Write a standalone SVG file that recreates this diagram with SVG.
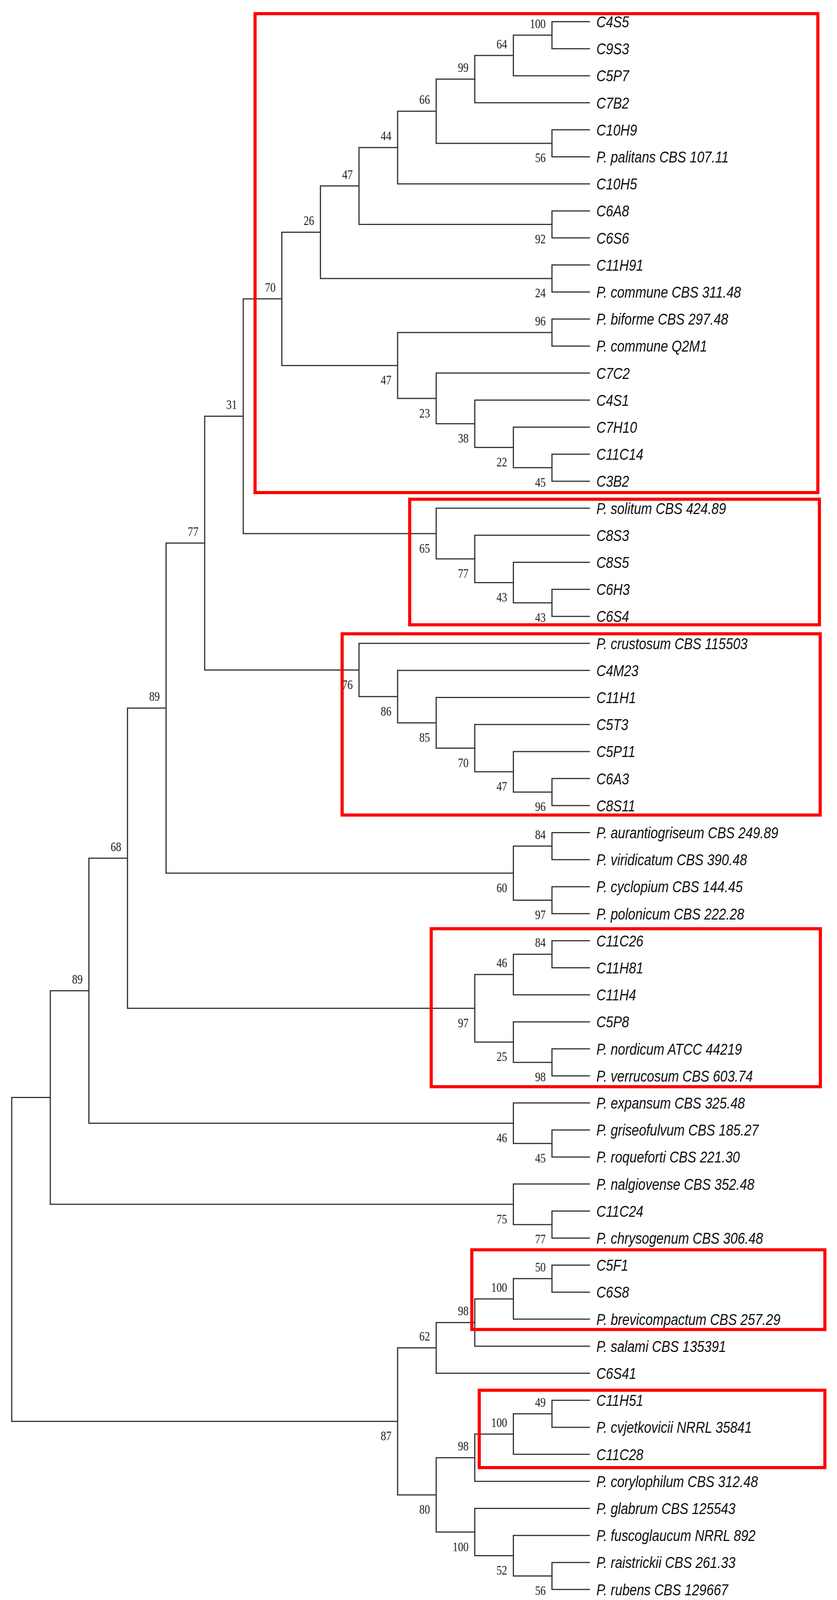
<svg xmlns="http://www.w3.org/2000/svg" width="2143" height="4108" viewBox="0 0 2143 4108">
<style>
.br{fill:none;stroke:#333;stroke-width:3;stroke-linejoin:miter}
.box{fill:none;stroke:#ff0000;stroke-width:8}
.lf{font-family:"Liberation Sans",Arial,sans-serif;font-style:italic;font-size:41px;fill:#111}
.bs{font-family:"Liberation Serif","Times New Roman",serif;font-size:33px;fill:#222}
</style>
<rect x="0" y="0" width="2143" height="4108" fill="#ffffff"/>
<g id="connectors">
<path class="br" d="M1510.5 55.5H1413.2V124.7H1510.5"/>
<path class="br" d="M1413.2 90.1H1314.4V193.9H1510.5"/>
<path class="br" d="M1314.4 142H1215.6V263.1H1510.5"/>
<path class="br" d="M1510.5 332.3H1413.2V401.5H1510.5"/>
<path class="br" d="M1215.6 202.55H1116.8V366.9H1413.2"/>
<path class="br" d="M1116.8 284.7H1018V470.7H1510.5"/>
<path class="br" d="M1510.5 539.9H1413.2V609.1H1510.5"/>
<path class="br" d="M1018 377.7H919.2V574.5H1413.2"/>
<path class="br" d="M1510.5 678.3H1413.2V747.5H1510.5"/>
<path class="br" d="M919.2 476.1H820.4V712.9H1413.2"/>
<path class="br" d="M1510.5 816.7H1413.2V885.9H1510.5"/>
<path class="br" d="M1510.5 1162.7H1413.2V1231.9H1510.5"/>
<path class="br" d="M1510.5 1093.5H1314.4V1197.3H1413.2"/>
<path class="br" d="M1510.5 1024.3H1215.6V1145.4H1314.4"/>
<path class="br" d="M1510.5 955.1H1116.8V1084.85H1215.6"/>
<path class="br" d="M1413.2 851.3H1018V1020H1116.8"/>
<path class="br" d="M820.4 594.5H721.6V935.65H1018"/>
<path class="br" d="M1510.5 1508.7H1413.2V1577.9H1510.5"/>
<path class="br" d="M1510.5 1439.5H1314.4V1543.3H1413.2"/>
<path class="br" d="M1510.5 1370.3H1215.6V1491.4H1314.4"/>
<path class="br" d="M1510.5 1301.1H1116.8V1430.85H1215.6"/>
<path class="br" d="M721.6 765.1H622.8V1366H1116.8"/>
<path class="br" d="M1510.5 1993.1H1413.2V2062.3H1510.5"/>
<path class="br" d="M1510.5 1923.9H1314.4V2027.7H1413.2"/>
<path class="br" d="M1510.5 1854.7H1215.6V1975.8H1314.4"/>
<path class="br" d="M1510.5 1785.5H1116.8V1915.25H1215.6"/>
<path class="br" d="M1510.5 1716.3H1018V1850.4H1116.8"/>
<path class="br" d="M1510.5 1647.1H919.2V1783.35H1018"/>
<path class="br" d="M622.8 1065.5H524V1715.2H919.2"/>
<path class="br" d="M1510.5 2131.5H1413.2V2200.7H1510.5"/>
<path class="br" d="M1510.5 2269.9H1413.2V2339.1H1510.5"/>
<path class="br" d="M1413.2 2166.1H1314.4V2304.5H1413.2"/>
<path class="br" d="M524 1390.35H425.2V2235.3H1314.4"/>
<path class="br" d="M1510.5 2408.3H1413.2V2477.5H1510.5"/>
<path class="br" d="M1413.2 2442.9H1314.4V2546.7H1510.5"/>
<path class="br" d="M1510.5 2685.1H1413.2V2754.3H1510.5"/>
<path class="br" d="M1510.5 2615.9H1314.4V2719.7H1413.2"/>
<path class="br" d="M1314.4 2494.8H1215.6V2667.8H1314.4"/>
<path class="br" d="M425.2 1812.8H326.4V2581.3H1215.6"/>
<path class="br" d="M1510.5 2892.7H1413.2V2961.9H1510.5"/>
<path class="br" d="M1510.5 2823.5H1314.4V2927.3H1413.2"/>
<path class="br" d="M326.4 2197.05H227.6V2875.4H1314.4"/>
<path class="br" d="M1510.5 3100.3H1413.2V3169.5H1510.5"/>
<path class="br" d="M1510.5 3031.1H1314.4V3134.9H1413.2"/>
<path class="br" d="M227.6 2536.2H128.8V3083H1314.4"/>
<path class="br" d="M1510.5 3238.7H1413.2V3307.9H1510.5"/>
<path class="br" d="M1413.2 3273.3H1314.4V3377.1H1510.5"/>
<path class="br" d="M1314.4 3325.2H1215.6V3446.3H1510.5"/>
<path class="br" d="M1215.6 3385.75H1116.8V3515.5H1510.5"/>
<path class="br" d="M1510.5 3584.7H1413.2V3653.9H1510.5"/>
<path class="br" d="M1413.2 3619.3H1314.4V3723.1H1510.5"/>
<path class="br" d="M1314.4 3671.2H1215.6V3792.3H1510.5"/>
<path class="br" d="M1510.5 3999.9H1413.2V4069.1H1510.5"/>
<path class="br" d="M1510.5 3930.7H1314.4V4034.5H1413.2"/>
<path class="br" d="M1510.5 3861.5H1215.6V3982.6H1314.4"/>
<path class="br" d="M1215.6 3731.75H1116.8V3922.05H1215.6"/>
<path class="br" d="M1116.8 3450.6H1018V3826.9H1116.8"/>
<path class="br" d="M128.8 2809.6H30V3638.75H1018"/>
</g>
<g id="bootstrap">
<text class="bs" x="1356.4" y="71.6" textLength="40.8" lengthAdjust="spacingAndGlyphs">100</text>
<text class="bs" x="1271.2" y="123.5" textLength="27.2" lengthAdjust="spacingAndGlyphs">64</text>
<text class="bs" x="1172.4" y="184" textLength="27.2" lengthAdjust="spacingAndGlyphs">99</text>
<text class="bs" x="1370" y="415.4" textLength="27.2" lengthAdjust="spacingAndGlyphs">56</text>
<text class="bs" x="1073.6" y="266.2" textLength="27.2" lengthAdjust="spacingAndGlyphs">66</text>
<text class="bs" x="974.8" y="359.2" textLength="27.2" lengthAdjust="spacingAndGlyphs">44</text>
<text class="bs" x="1370" y="623" textLength="27.2" lengthAdjust="spacingAndGlyphs">92</text>
<text class="bs" x="876" y="457.6" textLength="27.2" lengthAdjust="spacingAndGlyphs">47</text>
<text class="bs" x="1370" y="761.4" textLength="27.2" lengthAdjust="spacingAndGlyphs">24</text>
<text class="bs" x="777.2" y="576" textLength="27.2" lengthAdjust="spacingAndGlyphs">26</text>
<text class="bs" x="1370" y="832.8" textLength="27.2" lengthAdjust="spacingAndGlyphs">96</text>
<text class="bs" x="1370" y="1245.8" textLength="27.2" lengthAdjust="spacingAndGlyphs">45</text>
<text class="bs" x="1271.2" y="1193.9" textLength="27.2" lengthAdjust="spacingAndGlyphs">22</text>
<text class="bs" x="1172.4" y="1133.4" textLength="27.2" lengthAdjust="spacingAndGlyphs">38</text>
<text class="bs" x="1073.6" y="1068.5" textLength="27.2" lengthAdjust="spacingAndGlyphs">23</text>
<text class="bs" x="974.8" y="984.1" textLength="27.2" lengthAdjust="spacingAndGlyphs">47</text>
<text class="bs" x="678.4" y="746.6" textLength="27.2" lengthAdjust="spacingAndGlyphs">70</text>
<text class="bs" x="1370" y="1591.8" textLength="27.2" lengthAdjust="spacingAndGlyphs">43</text>
<text class="bs" x="1271.2" y="1539.9" textLength="27.2" lengthAdjust="spacingAndGlyphs">43</text>
<text class="bs" x="1172.4" y="1479.3" textLength="27.2" lengthAdjust="spacingAndGlyphs">77</text>
<text class="bs" x="1073.6" y="1414.5" textLength="27.2" lengthAdjust="spacingAndGlyphs">65</text>
<text class="bs" x="579.6" y="1047" textLength="27.2" lengthAdjust="spacingAndGlyphs">31</text>
<text class="bs" x="480.8" y="1371.9" textLength="27.2" lengthAdjust="spacingAndGlyphs">77</text>
<text class="bs" x="1370" y="2076.2" textLength="27.2" lengthAdjust="spacingAndGlyphs">96</text>
<text class="bs" x="1271.2" y="2024.3" textLength="27.2" lengthAdjust="spacingAndGlyphs">47</text>
<text class="bs" x="1172.4" y="1963.8" textLength="27.2" lengthAdjust="spacingAndGlyphs">70</text>
<text class="bs" x="1073.6" y="1898.9" textLength="27.2" lengthAdjust="spacingAndGlyphs">85</text>
<text class="bs" x="974.8" y="1831.9" textLength="27.2" lengthAdjust="spacingAndGlyphs">86</text>
<text class="bs" x="876" y="1763.7" textLength="27.2" lengthAdjust="spacingAndGlyphs">76</text>
<text class="bs" x="1370" y="2147.6" textLength="27.2" lengthAdjust="spacingAndGlyphs">84</text>
<text class="bs" x="1370" y="2353" textLength="27.2" lengthAdjust="spacingAndGlyphs">97</text>
<text class="bs" x="1271.2" y="2283.8" textLength="27.2" lengthAdjust="spacingAndGlyphs">60</text>
<text class="bs" x="382" y="1794.3" textLength="27.2" lengthAdjust="spacingAndGlyphs">89</text>
<text class="bs" x="1370" y="2424.4" textLength="27.2" lengthAdjust="spacingAndGlyphs">84</text>
<text class="bs" x="1271.2" y="2476.3" textLength="27.2" lengthAdjust="spacingAndGlyphs">46</text>
<text class="bs" x="1370" y="2768.2" textLength="27.2" lengthAdjust="spacingAndGlyphs">98</text>
<text class="bs" x="1271.2" y="2716.3" textLength="27.2" lengthAdjust="spacingAndGlyphs">25</text>
<text class="bs" x="1172.4" y="2629.8" textLength="27.2" lengthAdjust="spacingAndGlyphs">97</text>
<text class="bs" x="283.2" y="2178.5" textLength="27.2" lengthAdjust="spacingAndGlyphs">68</text>
<text class="bs" x="1370" y="2975.8" textLength="27.2" lengthAdjust="spacingAndGlyphs">45</text>
<text class="bs" x="1271.2" y="2923.9" textLength="27.2" lengthAdjust="spacingAndGlyphs">46</text>
<text class="bs" x="184.4" y="2517.7" textLength="27.2" lengthAdjust="spacingAndGlyphs">89</text>
<text class="bs" x="1370" y="3183.4" textLength="27.2" lengthAdjust="spacingAndGlyphs">77</text>
<text class="bs" x="1271.2" y="3131.5" textLength="27.2" lengthAdjust="spacingAndGlyphs">75</text>
<text class="bs" x="1370" y="3254.8" textLength="27.2" lengthAdjust="spacingAndGlyphs">50</text>
<text class="bs" x="1257.6" y="3306.7" textLength="40.8" lengthAdjust="spacingAndGlyphs">100</text>
<text class="bs" x="1172.4" y="3367.3" textLength="27.2" lengthAdjust="spacingAndGlyphs">98</text>
<text class="bs" x="1073.6" y="3432.1" textLength="27.2" lengthAdjust="spacingAndGlyphs">62</text>
<text class="bs" x="1370" y="3600.8" textLength="27.2" lengthAdjust="spacingAndGlyphs">49</text>
<text class="bs" x="1257.6" y="3652.7" textLength="40.8" lengthAdjust="spacingAndGlyphs">100</text>
<text class="bs" x="1172.4" y="3713.3" textLength="27.2" lengthAdjust="spacingAndGlyphs">98</text>
<text class="bs" x="1370" y="4083" textLength="27.2" lengthAdjust="spacingAndGlyphs">56</text>
<text class="bs" x="1271.2" y="4031.1" textLength="27.2" lengthAdjust="spacingAndGlyphs">52</text>
<text class="bs" x="1158.8" y="3970.5" textLength="40.8" lengthAdjust="spacingAndGlyphs">100</text>
<text class="bs" x="1073.6" y="3875.4" textLength="27.2" lengthAdjust="spacingAndGlyphs">80</text>
<text class="bs" x="974.8" y="3687.2" textLength="27.2" lengthAdjust="spacingAndGlyphs">87</text>
</g>
<g id="leaves" transform="translate(1527 0) scale(0.815 1)">
<g id="n-C4S5"><text class="lf" x="0" y="70">C4S5</text></g>
<g id="n-C9S3"><text class="lf" x="0" y="139.2">C9S3</text></g>
<g id="n-C5P7"><text class="lf" x="0" y="208.4">C5P7</text></g>
<g id="n-C7B2"><text class="lf" x="0" y="277.6">C7B2</text></g>
<g id="n-C10H9"><text class="lf" x="0" y="346.8">C10H9</text></g>
<g id="n-palitans"><text class="lf" x="0" y="416">P. palitans CBS 107.11</text></g>
<g id="n-C10H5"><text class="lf" x="0" y="485.2">C10H5</text></g>
<g id="n-C6A8"><text class="lf" x="0" y="554.4">C6A8</text></g>
<g id="n-C6S6"><text class="lf" x="0" y="623.6">C6S6</text></g>
<g id="n-C11H91"><text class="lf" x="0" y="692.8">C11H91</text></g>
<g id="n-commune311"><text class="lf" x="0" y="762">P. commune CBS 311.48</text></g>
<g id="n-biforme"><text class="lf" x="0" y="831.2">P. biforme CBS 297.48</text></g>
<g id="n-communeQ2M1"><text class="lf" x="0" y="900.4">P. commune Q2M1</text></g>
<g id="n-C7C2"><text class="lf" x="0" y="969.6">C7C2</text></g>
<g id="n-C4S1"><text class="lf" x="0" y="1038.8">C4S1</text></g>
<g id="n-C7H10"><text class="lf" x="0" y="1108">C7H10</text></g>
<g id="n-C11C14"><text class="lf" x="0" y="1177.2">C11C14</text></g>
<g id="n-C3B2"><text class="lf" x="0" y="1246.4">C3B2</text></g>
<g id="n-solitum"><text class="lf" x="0" y="1315.6">P. solitum CBS 424.89</text></g>
<g id="n-C8S3"><text class="lf" x="0" y="1384.8">C8S3</text></g>
<g id="n-C8S5"><text class="lf" x="0" y="1454">C8S5</text></g>
<g id="n-C6H3"><text class="lf" x="0" y="1523.2">C6H3</text></g>
<g id="n-C6S4"><text class="lf" x="0" y="1592.4">C6S4</text></g>
<g id="n-crustosum"><text class="lf" x="0" y="1661.6">P. crustosum CBS 115503</text></g>
<g id="n-C4M23"><text class="lf" x="0" y="1730.8">C4M23</text></g>
<g id="n-C11H1"><text class="lf" x="0" y="1800">C11H1</text></g>
<g id="n-C5T3"><text class="lf" x="0" y="1869.2">C5T3</text></g>
<g id="n-C5P11"><text class="lf" x="0" y="1938.4">C5P11</text></g>
<g id="n-C6A3"><text class="lf" x="0" y="2007.6">C6A3</text></g>
<g id="n-C8S11"><text class="lf" x="0" y="2076.8">C8S11</text></g>
<g id="n-aurantiogriseum"><text class="lf" x="0" y="2146">P. aurantiogriseum CBS 249.89</text></g>
<g id="n-viridicatum"><text class="lf" x="0" y="2215.2">P. viridicatum CBS 390.48</text></g>
<g id="n-cyclopium"><text class="lf" x="0" y="2284.4">P. cyclopium CBS 144.45</text></g>
<g id="n-polonicum"><text class="lf" x="0" y="2353.6">P. polonicum CBS 222.28</text></g>
<g id="n-C11C26"><text class="lf" x="0" y="2422.8">C11C26</text></g>
<g id="n-C11H81"><text class="lf" x="0" y="2492">C11H81</text></g>
<g id="n-C11H4"><text class="lf" x="0" y="2561.2">C11H4</text></g>
<g id="n-C5P8"><text class="lf" x="0" y="2630.4">C5P8</text></g>
<g id="n-nordicum"><text class="lf" x="0" y="2699.6">P. nordicum ATCC 44219</text></g>
<g id="n-verrucosum"><text class="lf" x="0" y="2768.8">P. verrucosum CBS 603.74</text></g>
<g id="n-expansum"><text class="lf" x="0" y="2838">P. expansum CBS 325.48</text></g>
<g id="n-griseofulvum"><text class="lf" x="0" y="2907.2">P. griseofulvum CBS 185.27</text></g>
<g id="n-roqueforti"><text class="lf" x="0" y="2976.4">P. roqueforti CBS 221.30</text></g>
<g id="n-nalgiovense"><text class="lf" x="0" y="3045.6">P. nalgiovense CBS 352.48</text></g>
<g id="n-C11C24"><text class="lf" x="0" y="3114.8">C11C24</text></g>
<g id="n-chrysogenum"><text class="lf" x="0" y="3184">P. chrysogenum CBS 306.48</text></g>
<g id="n-C5F1"><text class="lf" x="0" y="3253.2">C5F1</text></g>
<g id="n-C6S8"><text class="lf" x="0" y="3322.4">C6S8</text></g>
<g id="n-brevicompactum"><text class="lf" x="0" y="3391.6">P. brevicompactum CBS 257.29</text></g>
<g id="n-salami"><text class="lf" x="0" y="3460.8">P. salami CBS 135391</text></g>
<g id="n-C6S41"><text class="lf" x="0" y="3530">C6S41</text></g>
<g id="n-C11H51"><text class="lf" x="0" y="3599.2">C11H51</text></g>
<g id="n-cvjetkovicii"><text class="lf" x="0" y="3668.4">P. cvjetkovicii NRRL 35841</text></g>
<g id="n-C11C28"><text class="lf" x="0" y="3737.6">C11C28</text></g>
<g id="n-corylophilum"><text class="lf" x="0" y="3806.8">P. corylophilum CBS 312.48</text></g>
<g id="n-glabrum"><text class="lf" x="0" y="3876">P. glabrum CBS 125543</text></g>
<g id="n-fuscoglaucum"><text class="lf" x="0" y="3945.2">P. fuscoglaucum NRRL 892</text></g>
<g id="n-raistrickii"><text class="lf" x="0" y="4014.4">P. raistrickii CBS 261.33</text></g>
<g id="n-rubens"><text class="lf" x="0" y="4083.6">P. rubens CBS 129667</text></g>
</g>
<g id="boxes">
<rect class="box" x="653" y="35" width="1441" height="1226"/>
<rect class="box" x="1049" y="1278" width="1049" height="321.5"/>
<rect class="box" x="876" y="1622.5" width="1224" height="464"/>
<rect class="box" x="1104" y="2377.5" width="996.5" height="404.5"/>
<rect class="box" x="1208" y="3199.5" width="904" height="204"/>
<rect class="box" x="1227" y="3559" width="885" height="198"/>
</g>
</svg>
